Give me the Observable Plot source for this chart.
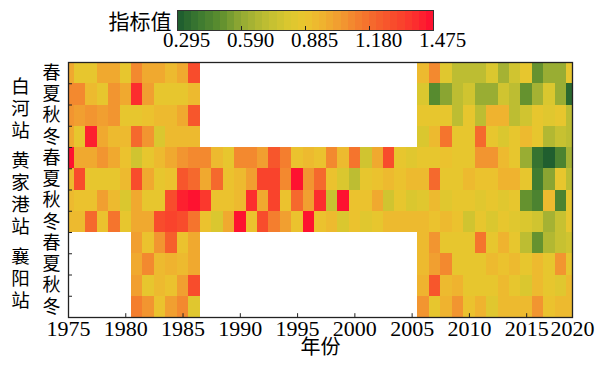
<!DOCTYPE html>
<html><head><meta charset="utf-8">
<script src="https://cdn.jsdelivr.net/npm/d3@7"></script>
<script src="https://cdn.jsdelivr.net/npm/@observablehq/plot@0.6"></script>
<style>
body{margin:0;background:#fff}
#wrap{position:relative;width:599px;height:366px}
#wrap svg{position:absolute;left:0;top:0}
</style></head><body><div id="wrap"></div>
<script>
const years = [1975,1976,1977,1978,1979,1980,1981,1982,1983,1984,1985,1986,1987,1988,1989,1990,1991,1992,1993,1994,1995,1996,1997,1998,1999,2000,2001,2002,2003,2004,2005,2006,2007,2008,2009,2010,2011,2012,2013,2014,2015,2016,2017,2018,2019];
const stations = ["白河站", "黄家港站", "襄阳站"];
const seasons = ["春", "夏", "秋", "冬"];
const N = null;
// 白河站
const baiheChun = [1.0,0.88,0.88,1.0,1.0,0.88,1.1,1.0,1.0,0.95,1.0,1.3, N,N,N,N,N,N,N,N,N,N,N,N,N,N,N,N,N,N,N, 0.93,1.1,0.82,0.7,0.7,0.72,0.8,0.65,0.76,0.86,0.5,0.6,0.6,0.86];
const baiheXia  = [1.1,1.1,0.95,0.88,1.08,1.0,1.4,1.02,0.88,0.88,0.88,0.93, N,N,N,N,N,N,N,N,N,N,N,N,N,N,N,N,N,N,N, 0.8,0.48,0.58,0.72,0.78,0.6,0.6,0.78,0.72,0.5,0.65,0.8,0.62,0.35];
const baiheQiu  = [1.05,1.02,1.08,1.02,1.05,0.88,0.88,0.9,0.95,0.92,1.0,1.25, N,N,N,N,N,N,N,N,N,N,N,N,N,N,N,N,N,N,N, 0.88,0.88,0.88,0.72,0.88,0.7,0.97,0.97,0.72,0.76,0.86,0.82,0.86,0.72];
const baiheDong = [1.0,0.88,1.42,1.0,0.95,0.95,1.2,1.08,0.8,0.92,0.95,0.95, N,N,N,N,N,N,N,N,N,N,N,N,N,N,N,N,N,N,N, 0.8,0.95,1.18,0.88,0.88,1.2,0.88,0.8,0.87,0.93,0.87,0.68,0.75,0.7];
// 黄家港站
const hjgChun = [1.47,1.0,1.0,1.05,1.0,0.9,0.78,0.86,0.93,1.0,1.08,1.1,1.1,0.95,0.88,1.1,1.1,1.02,1.25,1.12,0.9,0.95,0.9,1.1,0.95,1.15,0.78,1.0,1.3,0.88,0.83,0.88,0.88,0.9,0.88,0.88,1.05,1.05,0.93,0.88,0.6,0.38,0.3,0.45,0.65];
const hjgXia  = [0.95,1.3,0.88,0.88,0.86,0.93,1.28,1.0,0.88,0.9,1.25,1.2,1.0,1.2,0.9,0.95,1.02,1.32,1.32,1.1,1.45,1.08,1.2,0.9,0.8,0.72,0.88,0.9,0.95,0.9,0.95,0.95,1.2,0.88,0.88,0.95,0.9,0.9,0.98,0.96,0.88,0.42,0.58,0.86,0.7];
const hjgQiu  = [0.95,0.9,0.9,1.02,0.95,0.8,1.0,0.86,0.88,1.3,1.42,1.47,1.35,0.9,0.9,0.92,1.38,1.0,1.32,0.9,1.2,1.02,1.4,0.75,1.45,0.9,0.9,1.0,0.78,0.88,0.8,0.82,0.93,0.82,0.88,0.88,0.83,0.87,0.82,0.87,0.52,0.45,0.95,0.45,0.86];
const hjgDong = [0.95,0.95,1.2,0.9,1.15,0.88,1.0,1.0,1.3,1.32,1.3,1.15,0.9,0.8,1.0,1.45,0.9,1.28,1.12,1.02,0.9,1.45,0.9,0.93,0.8,0.9,0.82,0.88,0.93,0.93,0.93,0.93,0.9,0.93,0.9,0.78,0.88,0.8,0.88,0.82,0.8,0.78,0.65,0.75,0.86];
// 襄阳站
const xyChun = [N,N,N,N,N,N, 1.02,0.9,1.08,1.22,0.9,1.0, N,N,N,N,N,N,N,N,N,N,N,N,N,N,N,N,N,N,N, 0.95,1.05,0.88,0.88,0.88,1.18,0.88,0.98,0.88,0.7,0.5,0.68,0.75,0.78];
const xyXia  = [N,N,N,N,N,N, 1.0,1.1,0.95,0.96,0.95,1.0, N,N,N,N,N,N,N,N,N,N,N,N,N,N,N,N,N,N,N, 0.95,1.02,1.1,0.88,0.88,0.88,0.93,0.9,0.93,0.87,0.95,0.88,1.08,0.87];
const xyQiu  = [N,N,N,N,N,N, 1.02,0.88,0.95,0.9,1.02,1.3, N,N,N,N,N,N,N,N,N,N,N,N,N,N,N,N,N,N,N, 0.96,1.25,0.95,0.98,0.88,0.87,0.88,0.93,0.87,0.8,0.92,0.88,0.82,0.93];
const xyDong = [N,N,N,N,N,N, 1.12,1.08,0.9,1.02,1.1,0.85, N,N,N,N,N,N,N,N,N,N,N,N,N,N,N,N,N,N,N, 1.05,0.88,0.98,1.08,0.9,0.98,0.84,0.95,0.95,0.95,1.05,0.9,0.93,0.95];

const xTickYears  = [1975,1980,1985,1990,1995,2000,2005,2010,2015,2020];
const xTickLabels = ["1975","1980","1985","1990","1995","2000","2005","2010","2015","2020"];
const legendTicks = [0.295,0.590,0.885,1.180,1.475];
const legendLabels = ["0.295","0.590","0.885","1.180","1.475"];

// colour map (dark green -> yellow -> red)
const stopVals = [0.295,0.40,0.50,0.59,0.70,0.80,0.885,0.97,1.05,1.13,1.22,1.32,1.40,1.475];
const stopCols = ["#1b5a2f","#3d7a30","#60902f","#93aa33","#bcbd32","#d9c72f","#eac62e","#efb22f","#f29a30","#f47e2e","#f6622c","#f9452c","#fc2b2e","#ff0b30"];
const nSteps = 36;
const cmap = d3.scaleLinear().domain(stopVals).range(stopCols).interpolate(d3.interpolateRgb);
const cMin = legendTicks[0], cMax = legendTicks[legendTicks.length - 1];
const stepW = (cMax - cMin) / nSteps;
const steps = d3.range(nSteps).map(i => ({x1: cMin + i * stepW, x2: cMin + (i + 1) * stepW, mid: cMin + (i + 0.5) * stepW}));
const colorRange = steps.map(s => cmap(s.mid));
const colorScale = {type: "quantize", domain: [cMin, cMax], range: colorRange};

const rows = [baiheChun, baiheXia, baiheQiu, baiheDong, hjgChun, hjgXia, hjgQiu, hjgDong, xyChun, xyXia, xyQiu, xyDong];
const data = rows.flatMap((arr, r) => arr.map((v, j) => ({row: r, year: years[j], value: v}))).filter(d => d.value != null);
const rowLabels = rows.map((_, r) => seasons[r % 4]);

const serif = "'Liberation Serif','Times New Roman',serif";
const cjk = "'Noto Sans CJK SC','Noto Sans CJK JP',sans-serif";
const x0 = years[0], x1 = years[years.length - 1];

const main = Plot.plot({
  width: 599, height: 366,
  marginTop: 62, marginBottom: 49, marginLeft: 68, marginRight: 27,
  x: {domain: [x0, x1], axis: null},
  y: {domain: [rows.length, 0], axis: null},
  color: colorScale,
  style: {fontFamily: serif, background: "transparent", color: "#000"},
  marks: [
    Plot.rect(data, {x1: d => d.year - 0.5, x2: d => d.year + 0.5, y1: "row", y2: d => d.row + 1, fill: "value", clip: true, shapeRendering: "crispEdges"}),
    Plot.ruleX(xTickYears.filter(t => t > x0 && t < x1), {x: d => d, y1: rows.length, y2: rows.length - 0.18, stroke: "#222"}),
    Plot.ruleY(d3.range(1, rows.length), {y: d => d, x1: x0, x2: x0 + 0.35, stroke: "#222"}),
    Plot.frame({stroke: "#222", strokeWidth: 1.3}),
    Plot.text(xTickLabels, {x: (d, i) => Math.min(xTickYears[i], x1), frameAnchor: "bottom", dy: 18, fontSize: 22, fontFamily: serif}),
    Plot.text(["年份"], {frameAnchor: "bottom", dy: 36, fontSize: 20, fontFamily: cjk}),
    Plot.text(rowLabels, {y: (d, i) => i + 0.5, frameAnchor: "left", dx: -17, textAnchor: "middle", fontSize: 18, fontFamily: cjk}),
    Plot.text(stations, {y: (d, i) => i * 4 + 2, frameAnchor: "left", dx: -48, dy: 3, textAnchor: "middle", text: d => d.split("").join("\n"), lineHeight: 1.2, fontSize: 18.5, fontFamily: cjk})
  ]
});

const legend = Plot.plot({
  width: 599, height: 60,
  marginTop: 10, marginBottom: 30, marginLeft: 177, marginRight: 166,
  x: {domain: [cMin, cMax], axis: null},
  y: {domain: [0, 1], axis: null},
  color: colorScale,
  style: {fontFamily: serif, background: "transparent", color: "#000"},
  marks: [
    Plot.rect(steps, {x1: "x1", x2: "x2", y1: 0, y2: 1, fill: "mid", shapeRendering: "crispEdges"}),
    Plot.ruleX(legendTicks.slice(1, -1), {x: d => d, y1: 0, y2: 0.2, stroke: "#222"}),
    Plot.frame({stroke: "#333"}),
    Plot.text(legendLabels, {x: (d, i) => legendTicks[i], frameAnchor: "bottom", dy: 16, dx: 9, fontSize: 21, fontFamily: serif}),
    Plot.text(["指标值"], {frameAnchor: "left", dx: -6, dy: 2, textAnchor: "end", fontSize: 21, fontFamily: cjk})
  ]
});

const wrap = document.getElementById("wrap");
wrap.appendChild(main);
wrap.appendChild(legend);
</script></body></html>
